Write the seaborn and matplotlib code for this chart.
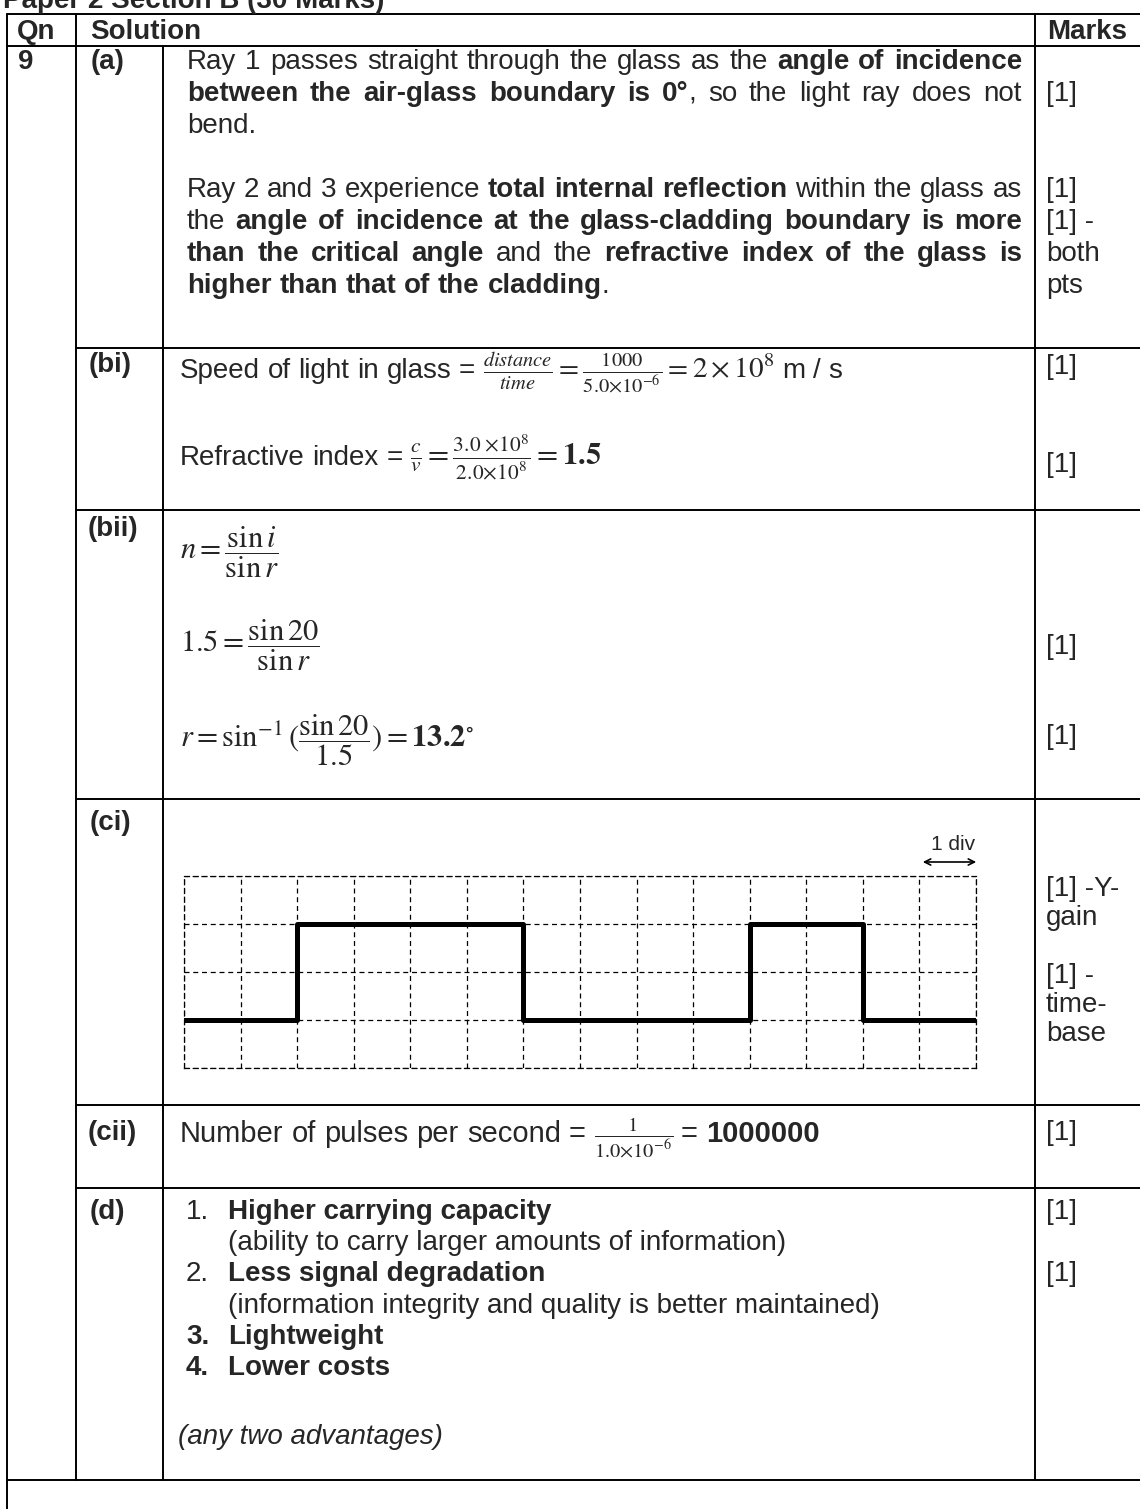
import matplotlib
matplotlib.use("Agg")
import matplotlib.pyplot as plt
import seaborn as sns
import pandas as pd

# square-wave trace drawn on the CRO screen (units = divisions)
trace_time = [0, 2, 6, 10, 12, 14]
trace_level = [1, 3, 1, 3, 1, 1]
screen_cols = 14
screen_rows = 4

title = "Paper 2 Section B (30 Marks)"
headers = ["Qn", "Solution", "Marks"]
part_labels = ["(a)", "(bi)", "(bii)", "(ci)", "(cii)", "(d)"]

N = {}
B = {"fontweight": "bold"}
I = {"style": "italic"}

part_a = [
    [("Ray 1 passes straight through the glass as the ", N), ("angle of incidence", B)],
    [("between the air-glass boundary is 0°", B), (", so the light ray does not", N)],
    [("bend.", N)],
    None,
    [("Ray 2 and 3 experience ", N), ("total internal reflection", B), (" within the glass as", N)],
    [("the ", N), ("angle of incidence at the glass-cladding boundary is more", B)],
    [("than the critical angle", B), (" and the ", N), ("refractive index of the glass is", B)],
    [("higher than that of the cladding", B), (".", N)],
]
justify_a = [True, True, False, False, True, True, True, False]
marks_a = ["", "[1]", "", "", "[1]", "[1] -", "both", "pts"]

marks_ci = ["[1] -Y-", "gain", "[1] -", "time-", "base"]

adv_list = [
    ("1.", N, "Higher carrying capacity", B),
    ("", N, "(ability to carry larger amounts of information)", N),
    ("2.", N, "Less signal degradation", B),
    ("", N, "(information integrity and quality is better maintained)", N),
    ("3.", B, "Lightweight", B),
    ("4.", B, "Lower costs", B),
]
marks_d = ["[1]", "", "[1]", "", "", ""]

sns.set_style("white")
plt.rcParams["font.family"] = ["Liberation Sans", "DejaVu Sans"]
plt.rcParams["mathtext.fontset"] = "stix"

W, H = 1140, 1509
FS = 20
fig = plt.figure(figsize=(W / 100, H / 100), dpi=100)
page = fig.add_axes([0, 0, 1, 1])
page.set_xlim(0, W)
page.set_ylim(H, 0)
page.axis("off")

fig.canvas.draw()
R = fig.canvas.get_renderer()


def width(t):
    return t.get_window_extent(R).width


def space_w(size):
    a = page.text(0, 0, "a a", fontsize=size)
    b = page.text(0, 0, "aa", fontsize=size)
    w = width(a) - width(b)
    a.remove()
    b.remove()
    return w


def line(x, y, parts, right=None, size=FS):
    # lay out mixed-style words one after another, optionally justified
    tokens = []
    pending = False
    for s, st in parts:
        if s.startswith("$"):
            tokens.append((s, st, pending))
            pending = False
            continue
        pieces = s.split(" ")
        for i, p in enumerate(pieces):
            if i > 0:
                pending = True
            if p == "":
                continue
            tokens.append((p, st, pending))
            pending = False
    sw = space_w(size)
    objs = []
    for s, st, sp in tokens:
        kw = dict(st)
        fs = kw.pop("size", size)
        t = page.text(0, y, s, va="baseline", ha="left", fontsize=fs, **kw)
        objs.append((t, width(t), sp))
    nsp = sum(1 for i, o in enumerate(objs) if o[2] and i > 0)
    nat = sum(o[1] for o in objs) + nsp * sw
    gap = sw
    if right is not None and nsp:
        gap = sw + (right - x - nat) / nsp
    cx = x
    for i, (t, w, sp) in enumerate(objs):
        if sp and i > 0:
            cx += gap
        t.set_x(cx)
        cx += w
    return cx


def put(x, y, s, size=FS, **kw):
    return page.text(x, y, s, va="baseline", ha="left", fontsize=size, **kw)


# ---- table rules
LW = 1.4
X0, XQ, XS, XM = 7, 76, 163, 1035
TOP, HEAD, BOT = 14, 46, 1480
row_lines = [348, 510, 799, 1105, 1188]
page.plot([X0, W], [TOP, TOP], color="black", lw=LW)
page.plot([X0, W], [HEAD, HEAD], color="black", lw=LW)
page.plot([X0, W], [BOT, BOT], color="black", lw=LW)
for yy in row_lines:
    page.plot([XQ, W], [yy, yy], color="black", lw=LW)
page.plot([X0, X0], [TOP, H], color="black", lw=LW)
page.plot([XQ, XQ], [TOP, BOT], color="black", lw=LW)
page.plot([XS, XS], [HEAD, BOT], color="black", lw=LW)
page.plot([XM, XM], [TOP, BOT], color="black", lw=LW)

# ---- title (cut by the page edge in the scan) and header
put(3, 8, title, size=20, fontweight="bold")
put(17, 39, headers[0], fontweight="bold")
put(90, 39, headers[1], fontweight="bold")
put(1047, 39, headers[2], fontweight="bold")

TA = 187
TX = 180
MX = 1046

# ---- 9 (a)
put(18, 69, "9", fontweight="bold")
put(91, 69, part_labels[0], fontweight="bold")
ys_a = [69 + 32 * k for k in range(8)]
for yy, parts, just, mk in zip(ys_a, part_a, justify_a, marks_a):
    if parts:
        line(TA, yy, parts, right=1022 if just else None)
    if mk:
        put(MX, yy, mk)

# ---- (bi)
put(89, 372, part_labels[1], fontweight="bold")
line(TX, 378, [("Speed of light in glass = ", N),
               (r"$\frac{distance}{time} = \frac{1000}{5.0{\times}10^{-6}} = 2 \times 10^{8}$", {"size": 21}),
               (" m / s", N)])
put(MX, 374, "[1]")
line(TX, 465, [("Refractive index = ", N),
               (r"$\frac{c}{v} = \frac{3.0\ {\times}10^{8}}{2.0{\times}10^{8}} = \mathbf{1.5}$", {"size": 22})])
put(MX, 472, "[1]")

# ---- (bii)
put(88, 536, part_labels[2], fontweight="bold")
line(TX, 559, [(r"$n = \dfrac{\sin i}{\sin r}$", {"size": 22})])
line(TX, 652, [(r"$1.5 = \dfrac{\sin 20}{\sin r}$", {"size": 22})])
put(MX, 654, "[1]")
line(TX, 747, [(r"$r = \sin^{-1}(\dfrac{\sin 20}{1.5}) = \mathbf{13.2}^{\circ}$", {"size": 22})])
put(MX, 744, "[1]")

# ---- (ci) oscilloscope screen
put(90, 830, part_labels[3], fontweight="bold")
gx0, gx1, gy0, gy1 = 184, 976, 876, 1068
scr = fig.add_axes([gx0 / W, 1 - gy1 / H, (gx1 - gx0) / W, (gy1 - gy0) / H])
trace = pd.DataFrame({"t": trace_time, "v": trace_level})
sns.lineplot(data=trace, x="t", y="v", ax=scr, color="black", lw=3.6,
             drawstyle="steps-post", estimator=None, sort=False, zorder=5)
scr.set_xlim(0, screen_cols)
scr.set_ylim(0, screen_rows)
scr.set_xticks(range(screen_cols + 1))
scr.set_yticks(range(screen_rows + 1))
scr.tick_params(length=0, labelbottom=False, labelleft=False)
scr.set_xlabel("")
scr.set_ylabel("")
scr.set_axisbelow(True)
scr.grid(True, linestyle=(0, (4, 3)), color="black", lw=0.9)
scr.patch.set_alpha(0)
for s in scr.spines.values():
    s.set_visible(True)
    s.set_linestyle((0, (4, 3)))
    s.set_color("black")
    s.set_linewidth(0.9)

page.annotate("", xy=(979, 862), xytext=(920, 862),
              arrowprops=dict(arrowstyle="<->", color="black", lw=1.2, mutation_scale=11))
page.text(953, 850, "1 div", ha="center", va="baseline", fontsize=15)
for yy, mk in zip([896, 925, 983, 1012, 1041], marks_ci):
    put(MX, yy, mk)

# ---- (cii)
put(88, 1140, part_labels[4], fontweight="bold")
line(TX, 1142, [("Number of pulses per second = ", N),
                (r"$\frac{1}{1.0{\times}10^{-6}}$", {"size": 21}), (" = ", N), ("1000000", B)], size=21)
put(MX, 1140, "[1]")

# ---- (d)
put(90, 1219, part_labels[5], fontweight="bold")
ys_d = [1219, 1250, 1281, 1313, 1344, 1375]
for yy, (num, nst, txt, tst), mk in zip(ys_d, adv_list, marks_d):
    if num:
        put(186, yy, num, **nst)
    put(228, yy, txt, **tst)
    if mk:
        put(MX, yy, mk)
put(178, 1444, "(any two advantages)", **I)

fig.savefig("out.png", dpi=100)
